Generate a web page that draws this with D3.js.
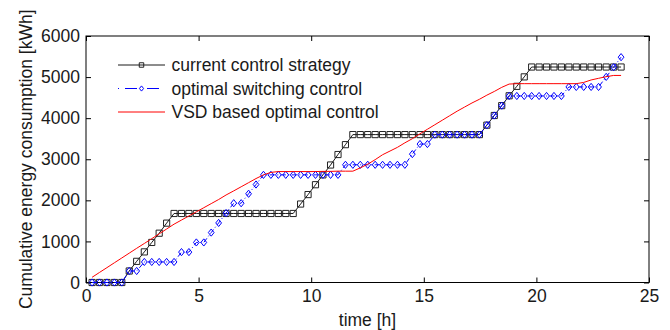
<!DOCTYPE html>
<html>
<head>
<meta charset="utf-8">
<script src="https://cdn.jsdelivr.net/npm/d3@7/dist/d3.min.js"></script>
<style>
  html, body { margin: 0; padding: 0; background: #fff; }
  svg { display: block; font-family: "Liberation Sans", Arial, Helvetica, sans-serif; }
</style>
</head>
<body>
<svg id="chart" width="670" height="330"></svg>
<script>
// Sampling instants [h]
const time = [
  0.27, 0.60, 0.93, 1.26, 1.59, 1.92, 2.25, 2.59, 2.92, 3.25, 3.58, 3.91,
  4.24, 4.57, 4.90, 5.23, 5.56, 5.89, 6.22, 6.56, 6.89, 7.22, 7.55, 7.88,
  8.21, 8.54, 8.87, 9.20, 9.53, 9.86, 10.19, 10.52, 10.86, 11.19, 11.52, 11.85,
  12.18, 12.51, 12.84, 13.17, 13.50, 13.83, 14.16, 14.49, 14.83, 15.16, 15.49, 15.82,
  16.15, 16.48, 16.81, 17.14, 17.47, 17.80, 18.13, 18.46, 18.79, 19.13, 19.46, 19.79,
  20.12, 20.45, 20.78, 21.11, 21.44, 21.77, 22.10, 22.43, 22.76, 23.10, 23.43, 23.76
];

// Cumulative energy [kWh] - current control strategy
const currentControl = [
  0, 0, 0, 0, 0, 280, 515, 745, 975, 1200, 1445, 1680,
  1680, 1680, 1680, 1680, 1680, 1680, 1680, 1680, 1680, 1680, 1680, 1680,
  1680, 1680, 1680, 1680, 1910, 2140, 2380, 2620, 2860, 3115, 3355, 3600,
  3600, 3600, 3600, 3600, 3600, 3600, 3600, 3600, 3600, 3600, 3600, 3600,
  3600, 3600, 3600, 3600, 3600, 3830, 4065, 4305, 4545, 4775, 5005, 5245,
  5245, 5245, 5245, 5245, 5245, 5245, 5245, 5245, 5245, 5245, 5245, 5245
];

// Cumulative energy [kWh] - optimal switching control
const optimalSwitching = [
  0, 0, 0, 0, 0, 280, 280, 500, 500, 500, 500, 500,
  740, 740, 975, 975, 1215, 1450, 1690, 1930, 1930, 2160, 2385, 2620,
  2620, 2620, 2620, 2620, 2620, 2620, 2620, 2620, 2620, 2620, 2865, 2865,
  2865, 2865, 2865, 2865, 2865, 2865, 2865, 3125, 3370, 3370, 3600, 3600,
  3600, 3600, 3600, 3600, 3600, 3830, 4065, 4305, 4540, 4540, 4540, 4540,
  4540, 4540, 4540, 4540, 4760, 4760, 4760, 4760, 4760, 5005, 5240, 5485
];

// Cumulative energy [kWh] - VSD based optimal control
const vsdControl = [
  127, 245, 362, 480, 597, 715, 832, 950, 1067, 1185, 1302, 1420,
  1520, 1620, 1720, 1820, 1920, 2020, 2130, 2230, 2330, 2430, 2530, 2620,
  2680, 2700, 2700, 2700, 2700, 2700, 2700, 2705, 2705, 2710, 2710, 2710,
  2790, 2880, 2990, 3110, 3200, 3290, 3400, 3500, 3620, 3730, 3840, 3950,
  4060, 4170, 4270, 4370, 4460, 4560, 4650, 4750, 4830, 4840, 4840, 4840,
  4840, 4840, 4840, 4840, 4840, 4840, 4870, 4930, 4970, 5010, 5040, 5040
];

const xTicks = [0, 5, 10, 15, 20, 25];
const yTicks = [0, 1000, 2000, 3000, 4000, 5000, 6000];
const seriesNames = ["current control strategy", "optimal switching control", "VSD based optimal control"];

const svg = d3.select("#chart");
const pL = 86, pR = 649, pT = 36, pB = 282.5;
const fontSize = 17.5;

const x = d3.scaleLinear().domain([0, 25]).range([pL, pR]);
const y = d3.scaleLinear().domain([0, 6000]).range([pB, pT]);

// Axes: ticks point inward on all four sides
const tickLen = 5;
function styleAxis(g) {
  g.select(".domain").remove();
  g.selectAll(".tick line").attr("stroke", "#000").attr("stroke-width", 1);
  g.selectAll(".tick text").attr("fill", "#1a1a1a").style("font-size", fontSize + "px");
}
svg.append("g").attr("transform", `translate(0,${pB})`)
  .call(d3.axisBottom(x).tickValues(xTicks).tickSize(-tickLen).tickPadding(7).tickFormat(d3.format("d")))
  .call(styleAxis);
svg.append("g").attr("transform", `translate(0,${pT})`)
  .call(d3.axisTop(x).tickValues(xTicks).tickSize(-tickLen).tickFormat(""))
  .call(styleAxis);
svg.append("g").attr("transform", `translate(${pL},0)`)
  .call(d3.axisLeft(y).tickValues(yTicks).tickSize(-tickLen).tickPadding(6).tickFormat(d3.format("d")))
  .call(styleAxis);
svg.append("g").attr("transform", `translate(${pR},0)`)
  .call(d3.axisRight(y).tickValues(yTicks).tickSize(-tickLen).tickFormat(""))
  .call(styleAxis);

// Plot frame
svg.append("rect")
  .attr("x", pL).attr("y", pT)
  .attr("width", pR - pL).attr("height", pB - pT)
  .attr("fill", "none").attr("stroke", "#000").attr("stroke-width", 1);

// Axis titles
svg.append("text")
  .attr("x", (pL + pR) / 2).attr("y", 326)
  .attr("text-anchor", "middle").attr("fill", "#1a1a1a")
  .style("font-size", fontSize + "px")
  .text("time [h]");
svg.append("text")
  .attr("transform", `translate(32,${(pT + pB) / 2}) rotate(-90)`)
  .attr("text-anchor", "middle").attr("fill", "#1a1a1a")
  .style("font-size", fontSize + "px")
  .text("Cumulative energy consumption [kWh]");

// Markers
const square = d3.symbol().type(d3.symbolSquare).size(38);
const diamond = (cx, cy, r) => `M${cx},${cy - r}L${cx + r * 0.8},${cy}L${cx},${cy + r}L${cx - r * 0.8},${cy}Z`;

const plot = svg.append("g");
const pts = (vals) => time.map((t, i) => [t, vals[i]]);
const line = d3.line().x(d => x(d[0])).y(d => y(d[1]));

// current control strategy
plot.append("path").attr("d", line(pts(currentControl)))
  .attr("fill", "none").attr("stroke", "#000").attr("stroke-width", 0.9);
plot.append("g").selectAll("path").data(pts(currentControl)).join("path")
  .attr("d", square)
  .attr("transform", d => `translate(${x(d[0])},${y(d[1])})`)
  .attr("fill", "none").attr("stroke", "#222").attr("stroke-width", 1);

// optimal switching control
plot.append("path").attr("d", line(pts(optimalSwitching)))
  .attr("fill", "none").attr("stroke", "#0000ff").attr("stroke-width", 1)
  .attr("stroke-dasharray", "5,2.5,1,2.5");
plot.append("g").selectAll("path").data(pts(optimalSwitching)).join("path")
  .attr("d", d => diamond(x(d[0]), y(d[1]), 3.6))
  .attr("fill", "none").attr("stroke", "#0000ff").attr("stroke-width", 1);

// VSD based optimal control
plot.append("path").attr("d", line(pts(vsdControl)))
  .attr("fill", "none").attr("stroke", "#ff0000").attr("stroke-width", 1);

// Legend
const legX0 = 118, legX1 = 165, legText = 171.5;
const rows = [65, 88.5, 112];
const leg = svg.append("g");
// row 1
leg.append("line").attr("x1", legX0).attr("x2", legX1).attr("y1", rows[0]).attr("y2", rows[0])
  .attr("stroke", "#000").attr("stroke-width", 0.9);
leg.append("path").attr("d", d3.symbol().type(d3.symbolSquare).size(20))
  .attr("transform", `translate(${(legX0 + legX1) / 2},${rows[0]})`)
  .attr("fill", "none").attr("stroke", "#222");
// row 2
leg.append("line").attr("x1", legX0).attr("x2", legX1).attr("y1", rows[1]).attr("y2", rows[1])
  .attr("stroke", "#0000ff").attr("stroke-width", 1).attr("stroke-dasharray", "1,6,12,10,12,6,1");
leg.append("path").attr("d", diamond((legX0 + legX1) / 2, rows[1], 2.6))
  .attr("fill", "none").attr("stroke", "#0000ff");
// row 3
leg.append("line").attr("x1", legX0).attr("x2", legX1).attr("y1", rows[2]).attr("y2", rows[2])
  .attr("stroke", "#ff0000").attr("stroke-width", 1);

leg.selectAll("text").data(seriesNames).join("text")
  .attr("x", legText).attr("y", (d, i) => rows[i]).attr("dy", "0.35em")
  .attr("fill", "#1a1a1a").style("font-size", fontSize + "px")
  .text(d => d);
</script>
</body>
</html>
